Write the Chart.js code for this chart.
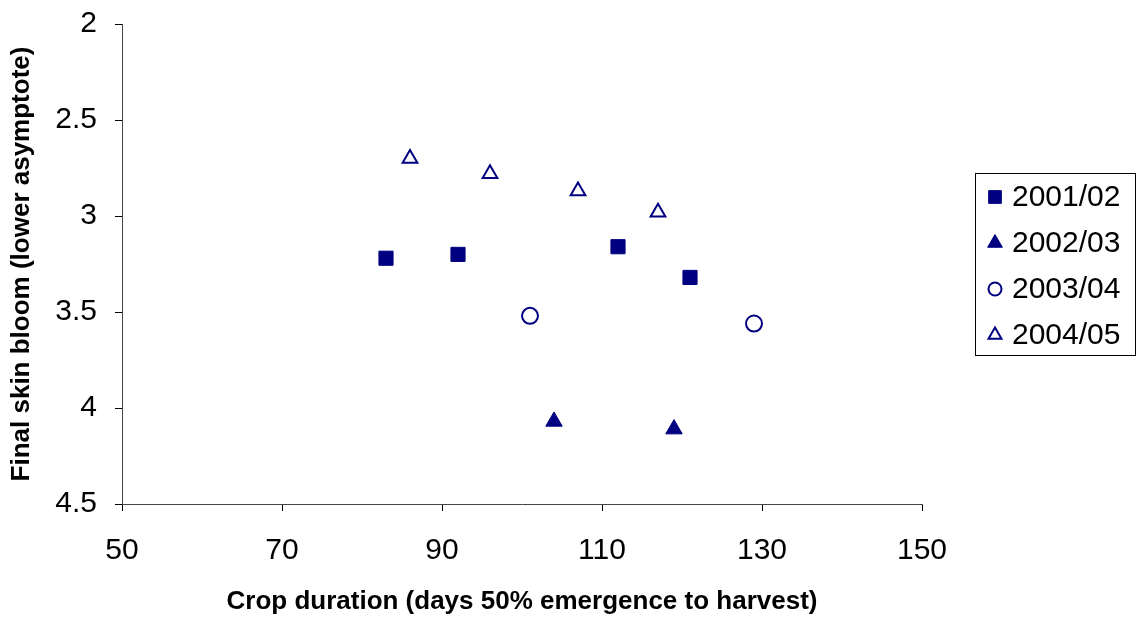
<!DOCTYPE html>
<html>
<head>
<meta charset="utf-8">
<script src="https://cdn.jsdelivr.net/npm/chart.js@4/dist/chart.umd.min.js"></script>
<style>
  html, body { margin: 0; padding: 0; background: #fff; }
  #wrap { width: 1140px; height: 617px; position: relative; }
</style>
</head>
<body>
<div id="wrap"><canvas id="c" width="1140" height="617"></canvas></div>
<script>
// Season labels and per-season points (crop duration in days, final skin bloom score)
const seasons = ['2001/02', '2002/03', '2003/04', '2004/05'];
const duration0102 = [83, 92, 112, 121];
const bloom0102    = [3.22, 3.20, 3.16, 3.32];
const duration0203 = [104, 119];
const bloom0203    = [4.07, 4.11];
const duration0304 = [101, 129];
const bloom0304    = [3.52, 3.56];
const duration0405 = [86, 96, 107, 117];
const bloom0405    = [2.70, 2.78, 2.87, 2.98];

// Axis tick values
const xTicks = [50, 70, 90, 110, 130, 150];
const yTicks = [2, 2.5, 3, 3.5, 4, 4.5];

const NAVY = '#000080';
const FONT = '"Liberation Sans", Arial, Helvetica, sans-serif';

function pts(xs, ys) { return xs.map((x, i) => ({ x: x, y: ys[i] })); }

const datasets = [
  { label: seasons[0], data: pts(duration0102, bloom0102), pointStyle: 'rect',
    pointRadius: 10, backgroundColor: NAVY, borderColor: NAVY, borderWidth: 1, legendSize: 9 },
  { label: seasons[1], data: pts(duration0203, bloom0203), pointStyle: 'triangle',
    pointRadius: 9.5, backgroundColor: NAVY, borderColor: NAVY, borderWidth: 1, legendSize: 8.5 },
  { label: seasons[2], data: pts(duration0304, bloom0304), pointStyle: 'circle',
    pointRadius: 8, backgroundColor: '#fff', borderColor: NAVY, borderWidth: 2, legendSize: 6.5 },
  { label: seasons[3], data: pts(duration0405, bloom0405), pointStyle: 'triangle',
    pointRadius: 8.5, backgroundColor: '#fff', borderColor: NAVY, borderWidth: 2, legendSize: 7.5 }
];

// Marker shapes for the boxed legend, same geometry as Chart.js point styles
function drawMarker(ctx, style, r, x, y) {
  ctx.beginPath();
  if (style === 'rect') {
    const s = r * Math.SQRT1_2;
    ctx.rect(x - s, y - s, 2 * s, 2 * s);
  } else if (style === 'triangle') {
    let a = 0;
    ctx.moveTo(x + Math.sin(a) * r, y - Math.cos(a) * r);
    a += 2 * Math.PI / 3;
    ctx.lineTo(x + Math.sin(a) * r, y - Math.cos(a) * r);
    a += 2 * Math.PI / 3;
    ctx.lineTo(x + Math.sin(a) * r, y - Math.cos(a) * r);
    ctx.closePath();
  } else {
    ctx.arc(x, y, r, 0, Math.PI * 2);
  }
  ctx.fill();
  ctx.stroke();
}

const boxLegend = {
  id: 'boxLegend',
  afterDraw(chart) {
    const ctx = chart.ctx;
    const L = { left: 975, top: 173, right: 1135, bottom: 355, markX: 995, textX: 1012, firstY: 197, step: 46 };
    ctx.save();
    ctx.strokeStyle = '#000';
    ctx.lineWidth = 1;
    ctx.strokeRect(L.left + 0.5, L.top + 0.5, L.right - L.left, L.bottom - L.top);
    chart.data.datasets.forEach((ds, i) => {
      const y = L.firstY + i * L.step;
      ctx.fillStyle = ds.backgroundColor;
      ctx.strokeStyle = ds.borderColor;
      ctx.lineWidth = ds.borderWidth;
      drawMarker(ctx, ds.pointStyle, ds.legendSize, L.markX, y);
      ctx.fillStyle = '#000';
      ctx.font = '30px ' + FONT;
      ctx.textBaseline = 'middle';
      ctx.textAlign = 'left';
      ctx.fillText(ds.label, L.textX, y + 1);
    });
    ctx.restore();
  }
};

new Chart(document.getElementById('c'), {
  type: 'scatter',
  data: { datasets: datasets },
  plugins: [boxLegend],
  options: {
    responsive: false,
    animation: false,
    devicePixelRatio: 1,
    layout: { padding: { top: 24, right: 218, bottom: 0, left: 0 } },
    plugins: { legend: { display: false }, tooltip: { enabled: false } },
    scales: {
      x: {
        type: 'linear',
        min: 50, max: 150,
        afterBuildTicks: s => { s.ticks = xTicks.map(v => ({ value: v })); },
        afterFit: s => { s.height = 113; s.paddingLeft = 0; s.paddingRight = 0; },
        grid: { display: true, drawOnChartArea: false, drawTicks: true, tickLength: 7, color: '#000', lineWidth: 1 },
        border: { display: true, color: '#444', width: 1 },
        ticks: { color: '#000', font: { family: FONT, size: 30 }, padding: 22, maxRotation: 0,
                 callback: v => String(v) },
        title: { display: true, text: 'Crop duration (days 50% emergence to harvest)', color: '#000',
                 font: { family: FONT, size: 26, weight: 'bold' }, padding: { top: 0, bottom: 0 } }
      },
      y: {
        type: 'linear',
        reverse: true,
        min: 2, max: 4.5,
        afterBuildTicks: s => { s.ticks = yTicks.map(v => ({ value: v })); },
        afterFit: s => { s.width = 122; s.paddingTop = 0; s.paddingBottom = 0; },
        grid: { display: true, drawOnChartArea: false, drawTicks: true, tickLength: 7, color: '#000', lineWidth: 1 },
        border: { display: true, color: '#444', width: 1 },
        ticks: { color: '#000', font: { family: FONT, size: 30 }, padding: 18,
                 callback: v => String(v) },
        title: { display: true, text: 'Final skin bloom (lower asymptote)', color: '#000',
                 font: { family: FONT, size: 26, weight: 'bold' }, padding: { top: 6, bottom: 0 } }
      }
    }
  }
});
</script>
</body>
</html>
